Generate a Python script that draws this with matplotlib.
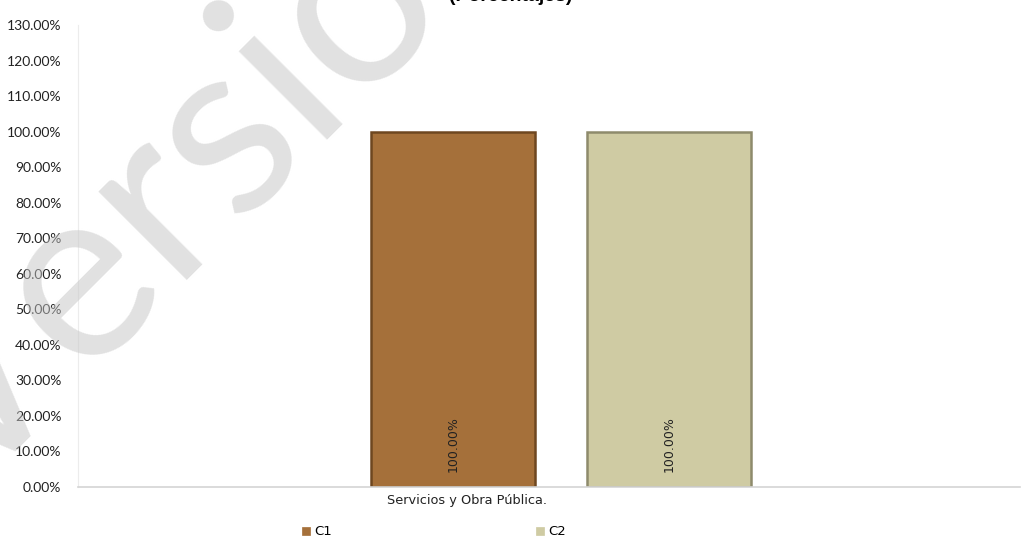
import matplotlib.pyplot as plt
from matplotlib.patches import Patch
import numpy as np

categoria = 'Servicios y Obra Pública.'
series = ['C1', 'C2']
valores = [100.0, 100.0]
colores = ['#a5703a', '#cfcba3']
bordes = ['#6e4720', '#8e8b6c']
yticks = np.arange(0, 131, 10)

fig = plt.figure(figsize=(10.33, 5.40), dpi=100)
ax = fig.add_axes([0.0755, 0.0981, 0.9119, 0.8556])

ancho = 0.35
offset = 0.2305
x_cat = 0.0
for i, (s, v) in enumerate(zip(series, valores)):
    x = x_cat + (i - 0.5) * 2 * offset
    ax.bar(x, v, width=ancho, color=colores[i], edgecolor=bordes[i],
           linewidth=1.8, zorder=2)
    ax.text(x, 4.2, '{:.2f}%'.format(v), rotation=90, ha='center', va='bottom',
            fontsize=9, family='DejaVu Sans', color='#222222', zorder=3)

ax.set_xlim(-1.031, 0.98)
ax.set_ylim(0, 130)
ax.set_yticks(yticks)
ax.set_yticklabels(['{:.2f}%'.format(t) for t in yticks], fontsize=10,
                   family='Lato', color='#222222')
ax.set_xticks([x_cat - 0.2])
ax.set_xticklabels([categoria], fontsize=9.3, family='DejaVu Sans', color='#222222')
ax.tick_params(axis='both', length=0)
ax.tick_params(axis='x', pad=5)
ax.tick_params(axis='y', pad=12)

for side in ['top', 'right']:
    ax.spines[side].set_visible(False)
ax.spines['left'].set_color('#ececec')
ax.spines['bottom'].set_color('#d4d4d4')
ax.spines['bottom'].set_linewidth(1.2)

handles = [Patch(facecolor=c, edgecolor=c, linewidth=0.5, label=s)
           for s, c in zip(series, colores)]
fig.legend(handles=handles, loc='center', bbox_to_anchor=(0.42, 0.015), ncol=2,
           frameon=False, prop={'family': 'DejaVu Sans', 'size': 9.5},
           handlelength=0.6, handleheight=0.6, handletextpad=0.3,
           columnspacing=15.5)

fig.text(0.494, 1 - 1 / 540, '(Porcentajes)', ha='center', va='baseline',
         fontsize=14, fontweight='bold', family='Liberation Sans')

# marca de agua
fig.text(-35 / 1033, 1 - 503 / 540, 'Versión Pública', rotation=45,
         rotation_mode='anchor', ha='left', va='baseline', fontsize=178,
         family='Lato', fontweight='normal', color=(0.77, 0.77, 0.77),
         alpha=0.5, zorder=10)

plt.savefig('out.png', dpi=100)
